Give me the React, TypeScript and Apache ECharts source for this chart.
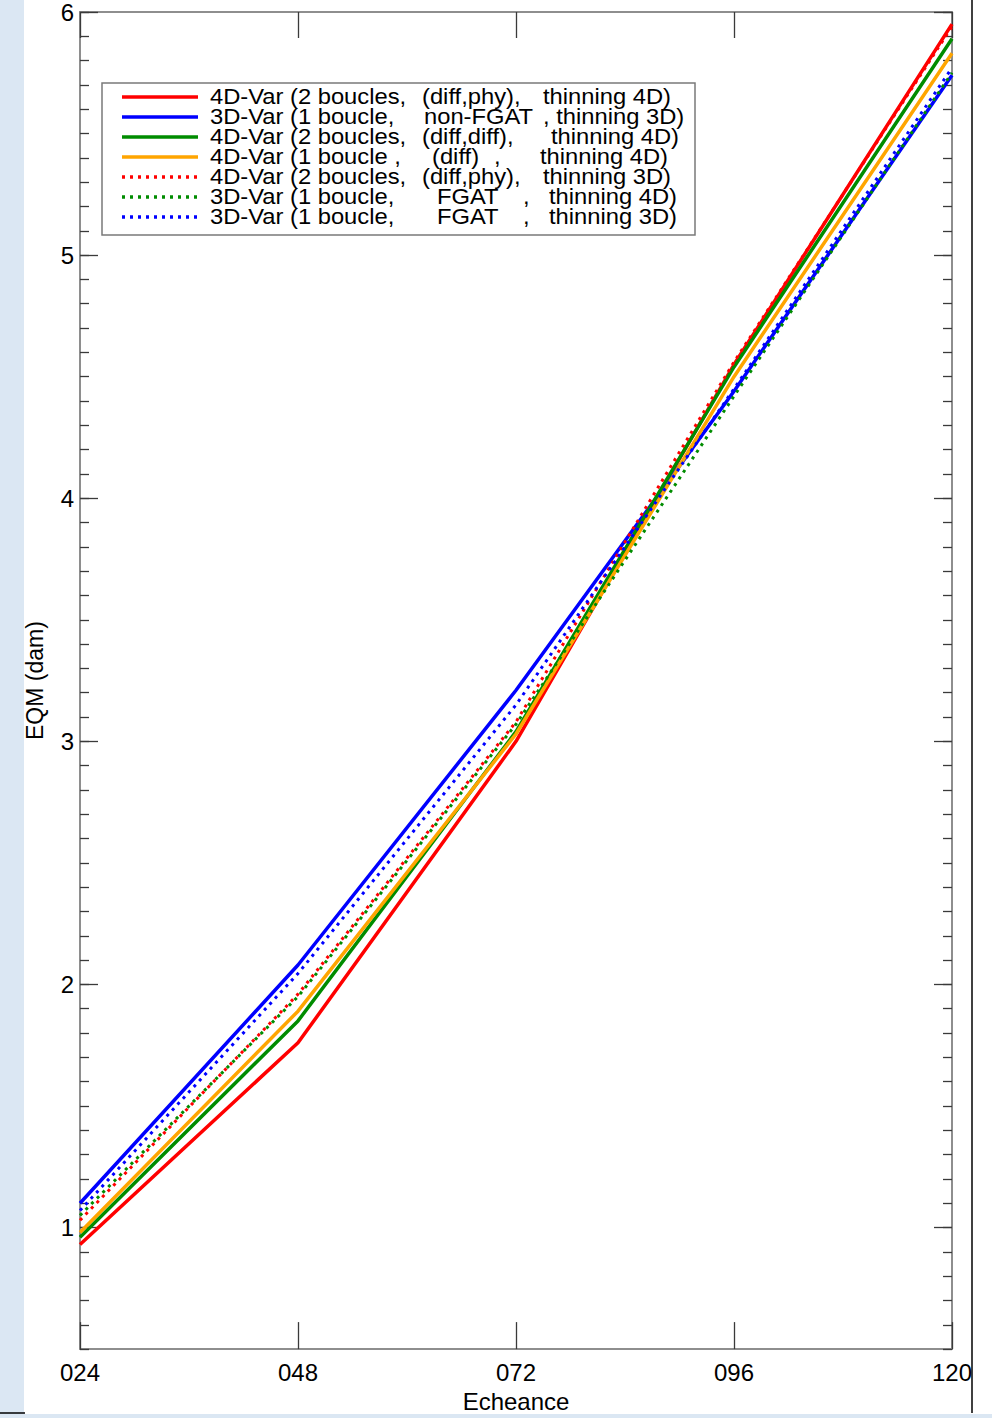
import React, { useEffect, useRef } from "react";
import * as echarts from "echarts";

// ---- data ----
const hours = [24, 48, 72, 96, 120];
const xTickLabels = ["024", "048", "072", "096", "120"];
const yTickValues = [1, 2, 3, 4, 5, 6];

const red4DDiffPhyThin4D = [0.93, 1.76, 3.0, 4.55, 5.95];
const blue3DNonFgatThin3D = [1.1, 2.08, 3.21, 4.44, 5.74];
const green4DDiffDiffThin4D = [0.96, 1.85, 3.04, 4.54, 5.89];
const orange4DOneBoucleThin4D = [0.98, 1.89, 3.03, 4.5, 5.83];
const red4DDiffPhyThin3D = [1.03, 1.96, 3.08, 4.56, 5.94];
const green3DFgatThin4D = [1.05, 1.95, 3.07, 4.42, 5.75];
const blue3DFgatThin3D = [1.07, 2.045, 3.15, 4.45, 5.77];

const legendSegments = [
  ["4D-Var (2 boucles,", "(diff,phy),", "thinning 4D)"],
  ["3D-Var (1 boucle,", "non-FGAT", ", thinning 3D)"],
  ["4D-Var (2 boucles,", "(diff,diff),", "thinning 4D)"],
  ["4D-Var (1 boucle ,", "(diff)", ",", "thinning 4D)"],
  ["4D-Var (2 boucles,", "(diff,phy),", "thinning 3D)"],
  ["3D-Var (1 boucle,", "FGAT", ",", "thinning 4D)"],
  ["3D-Var (1 boucle,", "FGAT", ",", "thinning 3D)"],
];
const seriesValues = [
  red4DDiffPhyThin4D,
  blue3DNonFgatThin3D,
  green4DDiffDiffThin4D,
  orange4DOneBoucleThin4D,
  red4DDiffPhyThin3D,
  green3DFgatThin4D,
  blue3DFgatThin3D,
];

// ---- styles ----
const seriesColors = ["#ff0000", "#0000ff", "#008c00", "#ffa500", "#ff0000", "#008c00", "#0000ff"];
const seriesDotted = [false, false, false, false, true, true, true];
const segmentX = [
  [210, 422, 543],
  [210, 424, 543],
  [210, 422, 551],
  [210, 432, 494, 540],
  [210, 422, 543],
  [210, 437, 523, 549],
  [210, 437, 523, 549],
];
const FONT = "'Liberation Sans', Arial, Helvetica, sans-serif";
const DOT_DASH = [3, 5];

export default function App() {
  const ref = useRef<HTMLDivElement>(null);

  useEffect(() => {
    if (!ref.current) return;
    const chart = echarts.init(ref.current, undefined, { renderer: "svg" });

    const axisLine = { show: true, lineStyle: { color: "#8e8e8e", width: 2 } };
    const tickStyle = { color: "#3a3a3a", width: 1.3 };

    const series = seriesValues.map((vals, i) => ({
      type: "line",
      name: legendSegments[i].join(" "),
      xAxisIndex: 0,
      yAxisIndex: 0,
      data: hours.map((h, j) => [h, vals[j]]),
      symbol: "none",
      showSymbol: false,
      z: 3 + i,
      lineStyle: {
        color: seriesColors[i],
        width: seriesDotted[i] ? 3 : 3.5,
        type: seriesDotted[i] ? DOT_DASH : "solid",
      },
    }));

    const legendChildren: any[] = [
      {
        type: "rect",
        shape: { x: 102, y: 83, width: 593, height: 152 },
        style: { fill: "#ffffff", stroke: "#7a7a7a", lineWidth: 1.5 },
      },
    ];
    legendSegments.forEach((segs, i) => {
      const rowY = 97 + i * 20;
      legendChildren.push({
        type: "line",
        shape: { x1: 122, y1: rowY, x2: 198, y2: rowY },
        style: {
          stroke: seriesColors[i],
          lineWidth: 3.5,
          lineDash: seriesDotted[i] ? DOT_DASH : null,
        },
      });
      segs.forEach((s, k) => {
        legendChildren.push({
          type: "text",
          x: segmentX[i][k],
          y: rowY - 1,
          scaleX: 1.08,
          style: {
            text: s,
            fontSize: 22,
            fontFamily: FONT,
            fill: "#000",
            align: "left",
            verticalAlign: "middle",
          },
        });
      });
    });

    const option: any = {
      animation: false,
      backgroundColor: "#ffffff",
      textStyle: { fontFamily: FONT },
      grid: { left: 80, top: 9, width: 872, height: 1348 },
      xAxis: [
        {
          type: "value",
          position: "bottom",
          min: 24,
          max: 120,
          interval: 24,
          axisLine,
          axisTick: { show: true, inside: true, length: 27, lineStyle: tickStyle },
          axisLabel: {
            formatter: (v: number) => xTickLabels[hours.indexOf(v)] ?? "",
            fontSize: 24,
            color: "#000",
            margin: 11,
            fontFamily: FONT,
          },
          splitLine: { show: false },
          name: "Echeance",
          nameLocation: "middle",
          nameGap: 36,
          nameTextStyle: { fontSize: 24, color: "#000", fontFamily: FONT },
        },
        {
          type: "value",
          position: "top",
          min: 24,
          max: 120,
          interval: 24,
          axisLine,
          axisTick: { show: true, inside: true, length: 26, lineStyle: tickStyle },
          axisLabel: { show: false },
          splitLine: { show: false },
        },
      ],
      yAxis: [
        {
          type: "value",
          position: "left",
          min: 0.5,
          max: 6,
          axisLine,
          axisTick: { show: true, inside: true, length: 18, customValues: yTickValues, lineStyle: tickStyle },
          axisLabel: {
            customValues: yTickValues,
            fontSize: 24,
            color: "#000",
            margin: 6,
            fontFamily: FONT,
          },
          splitLine: { show: false },
          name: "EQM (dam)",
          nameLocation: "middle",
          nameGap: 34,
          nameRotate: 90,
          nameTextStyle: { fontSize: 23, color: "#000", fontFamily: FONT },
        },
        {
          type: "value",
          position: "left",
          min: 0.5,
          max: 6,
          interval: 0.1,
          axisLine,
          axisTick: { show: true, inside: true, length: 9, lineStyle: tickStyle },
          axisLabel: { show: false },
          splitLine: { show: false },
        },
        {
          type: "value",
          position: "right",
          min: 0.5,
          max: 6,
          axisLine,
          axisTick: { show: true, inside: true, length: 18, customValues: yTickValues, lineStyle: tickStyle },
          axisLabel: { show: false },
          splitLine: { show: false },
        },
        {
          type: "value",
          position: "right",
          min: 0.5,
          max: 6,
          interval: 0.1,
          axisLine,
          axisTick: { show: true, inside: true, length: 9, lineStyle: tickStyle },
          axisLabel: { show: false },
          splitLine: { show: false },
        },
      ],
      series,
      graphic: [
        {
          type: "rect",
          z: -10,
          silent: true,
          shape: { x: 0, y: 0, width: 24, height: 1418 },
          style: { fill: "#dbe7f3" },
        },
        {
          type: "rect",
          z: -10,
          silent: true,
          shape: { x: 0, y: 1414, width: 992, height: 4 },
          style: { fill: "#dbe7f3" },
        },
        {
          type: "line",
          z: -5,
          silent: true,
          shape: { x1: 0, y1: 1413, x2: 25, y2: 1413 },
          style: { stroke: "#000", lineWidth: 1.5 },
        },
        {
          type: "line",
          z: -5,
          silent: true,
          shape: { x1: 972, y1: 0, x2: 972, y2: 1413 },
          style: { stroke: "#000", lineWidth: 1.5 },
        },
        {
          type: "group",
          z: 100,
          children: legendChildren,
        },
      ],
    };

    chart.setOption(option);
    return () => chart.dispose();
  }, []);

  return (
    <div
      ref={ref}
      style={{ position: "absolute", left: 0, top: 0, width: 992, height: 1418 }}
    />
  );
}
